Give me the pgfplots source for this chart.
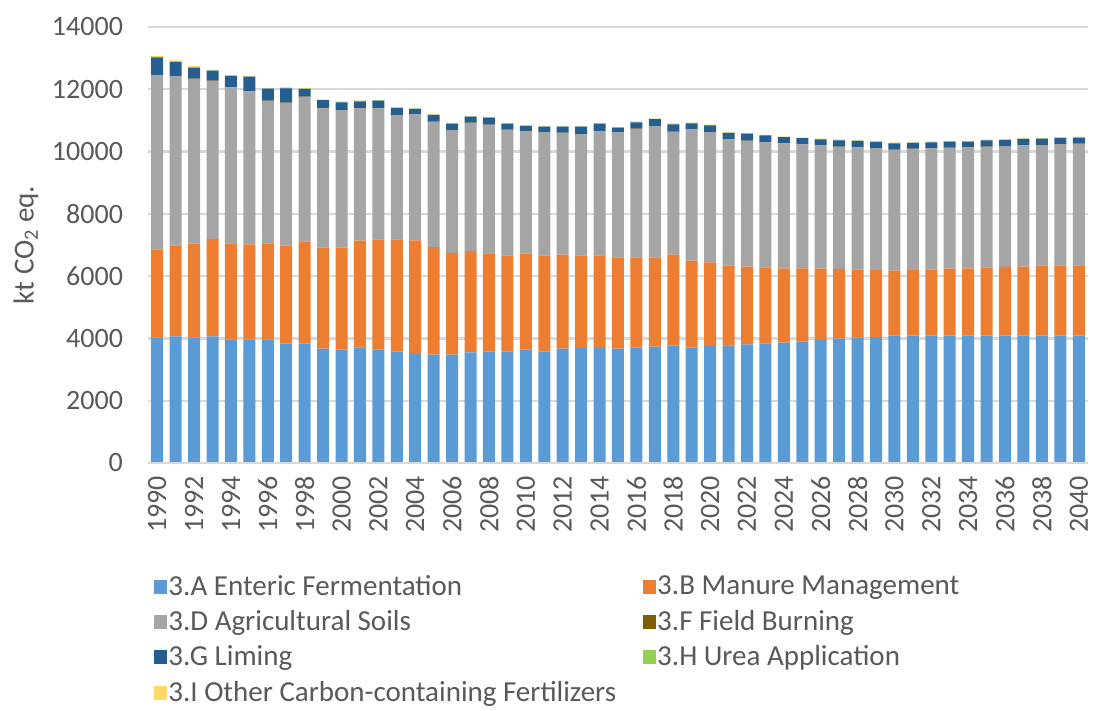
\documentclass[border=0pt]{standalone}
\usepackage{pgfplots}
\pgfplotsset{compat=1.18}
\usepackage{pgfplotstable}
\usepackage{fontspec}
\setmainfont{Carlito}
\definecolor{cA}{HTML}{5B9BD5}
\definecolor{cB}{HTML}{ED7D31}
\definecolor{cD}{HTML}{A5A5A5}
\definecolor{cF}{HTML}{7F6000}
\definecolor{cG}{HTML}{255E91}
\definecolor{cH}{HTML}{92D050}
\definecolor{cI}{HTML}{FFD966}
\definecolor{txt}{HTML}{595959}
\definecolor{grd}{HTML}{D9D9D9}
\pgfplotstableread{
year A B D F G H I
1990 4035 2825 5595 5 567 10 38
1991 4067 2921 5425 5 459 10 38
1992 4035 3017 5285 5 353 10 38
1993 4067 3133 5073 5 321 10 15
1994 3970 3082 5008 5 363 10 15
1995 3958 3062 4912 5 468 10 15
1996 3958 3094 4578 5 385 10 15
1997 3830 3158 4578 5 462 10 15
1998 3830 3286 4642 5 247 10 15
1999 3670 3242 4474 5 257 10 10
2000 3637 3275 4419 5 247 10 10
2001 3713 3424 4249 5 224 10 10
2002 3637 3543 4206 5 244 10 10
2003 3585 3595 3991 5 224 10 10
2004 3500 3648 4055 5 160 10 10
2005 3478 3456 4022 5 215 10 10
2006 3478 3272 3939 5 200 10 10
2007 3553 3262 4109 5 193 10 10
2008 3585 3145 4130 5 225 10 10
2009 3585 3081 4034 5 192 10 10
2010 3637 3093 3927 5 161 10 10
2011 3585 3081 3959 5 171 10 10
2012 3670 3018 3915 5 193 10 10
2013 3691 2975 3895 5 235 10 10
2014 3691 2975 3981 5 245 10 10
2015 3670 2932 4013 5 148 10 10
2016 3713 2889 4129 5 205 10 10
2017 3734 2868 4216 5 215 10 10
2018 3777 2911 3947 5 237 10 10
2019 3713 2782 4215 5 194 10 10
2020 3756 2686 4183 5 215 10 10
2021 3777 2569 4045 5 202 10 10
2022 3809 2493 4044 5 225 10 10
2023 3841 2440 4013 5 220 10 10
2024 3863 2387 4012 5 193 10 10
2025 3906 2344 3980 5 193 10 10
2026 3948 2292 3958 5 192 10 10
2027 3991 2239 3924 5 204 10 10
2028 4035 2185 3913 5 203 10 10
2029 4045 2150 3917 5 192 10 10
2030 4087 2088 3882 5 205 10 10
2031 4087 2108 3895 5 182 10 10
2032 4087 2133 3881 5 193 10 10
2033 4087 2153 3882 5 192 10 10
2034 4087 2163 3893 5 171 10 10
2035 4087 2194 3873 5 204 10 10
2036 4087 2213 3876 5 192 10 10
2037 4087 2215 3896 5 202 10 10
2038 4087 2248 3873 5 203 10 10
2039 4087 2248 3905 5 192 10 10
2040 4087 2259 3904 5 193 10 10
}\datatable
\begin{document}
\begin{tikzpicture}
\useasboundingbox (-74pt,-124pt) rectangle (473pt,231.5pt);
\begin{axis}[
  at={(0,0)}, anchor=south west,
  scale only axis,
  width=470pt, height=218pt,
  ybar stacked, bar width=6pt,
  xmin=1989.5, xmax=2040.5,
  ymin=0, ymax=14000,
  scaled y ticks=false,
  xtick={1990,1992,...,2040},
  ytick={0,2000,...,14000},
  /pgf/number format/1000 sep={},
  /pgf/number format/assume math mode=true,
  tick style={draw=none},
  axis line style={draw=none},
  ymajorgrids, grid style={grd, line width=1.2pt},
  tick label style={font=\fontsize{14}{16}\selectfont, text=txt},
  x tick label style={rotate=90, anchor=east, yshift=0pt, xshift=-3pt},
  yticklabel style={xshift=-9pt},
  ylabel={kt CO\textsubscript{2} eq.},
  ylabel style={font=\fontsize{14.5}{16}\selectfont, text=txt},
  legend columns=2,
  legend style={at={(axis description cs:0,-0.238)}, anchor=north west, draw=none,
    font=\fontsize{14.5}{16}\selectfont, text=txt,
    nodes={inner xsep=0.5pt},
    /tikz/column 1/.style={column sep=0pt},
    /tikz/column 2/.style={column sep=13pt},
    /tikz/column 3/.style={column sep=0pt},
    row sep=2.1pt},
  legend cell align=left,
  legend image code/.code={\fill[#1] (0pt,-3.5pt) rectangle (6.5pt,3.5pt);},
  clip=false,
]
\draw[grd, line width=1.2pt] (axis cs:1989.5,0) -- (axis cs:2040.5,0);
\addplot[fill=cA, draw=none] table[x=year,y=A]{\datatable};
\addplot[fill=cB, draw=none] table[x=year,y=B]{\datatable};
\addplot[fill=cD, draw=none] table[x=year,y=D]{\datatable};
\addplot[fill=cF, draw=none] table[x=year,y=F]{\datatable};
\addplot[fill=cG, draw=none] table[x=year,y=G]{\datatable};
\addplot[fill=cH, draw=none] table[x=year,y=H]{\datatable};
\addplot[fill=cI, draw=none] table[x=year,y=I]{\datatable};
\legend{3.A Enteric Fermentation, 3.B Manure Management, 3.D Agricultural Soils, 3.F Field Burning, 3.G Liming, 3.H Urea Application, 3.I Other Carbon-containing Fertilizers}
\end{axis}
\end{tikzpicture}
\end{document}
